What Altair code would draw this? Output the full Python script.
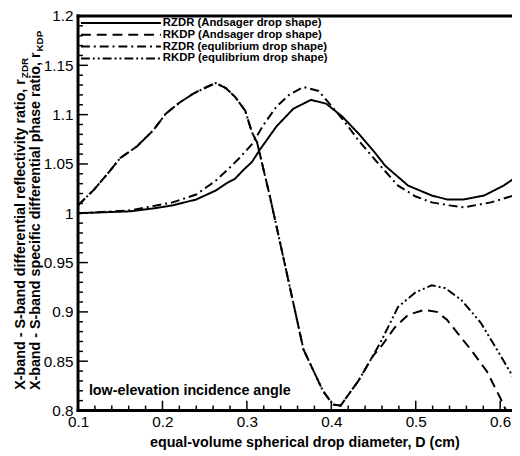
import altair as alt
import pandas as pd

FONT = "Liberation Sans"
W, H = 440, 400

# ---------------- data ----------------
rzdr_and_D = [0.100, 0.130, 0.162, 0.190, 0.212, 0.240, 0.263, 0.277, 0.286, 0.296, 0.306,
              0.315, 0.335, 0.355, 0.376, 0.394, 0.413, 0.432, 0.452, 0.464, 0.491, 0.519,
              0.537, 0.557, 0.581, 0.604, 0.616]
rzdr_and_v = [1.000, 1.001, 1.002, 1.005, 1.008, 1.014, 1.023, 1.031, 1.035, 1.044, 1.052,
              1.064, 1.088, 1.106, 1.115, 1.111, 1.098, 1.081, 1.061, 1.048, 1.028, 1.018,
              1.014, 1.014, 1.018, 1.028, 1.035]

rzdr_eq_D = [0.100, 0.162, 0.212, 0.240, 0.263, 0.277, 0.290, 0.306, 0.320, 0.335, 0.350,
             0.367, 0.385, 0.405, 0.420, 0.432, 0.452, 0.479, 0.500, 0.519, 0.540, 0.557,
             0.589, 0.616]
rzdr_eq_v = [1.000, 1.003, 1.011, 1.019, 1.033, 1.044, 1.055, 1.070, 1.090, 1.108, 1.120,
             1.128, 1.124, 1.104, 1.088, 1.074, 1.054, 1.028, 1.017, 1.011, 1.008, 1.006,
             1.011, 1.018]

rkdp_and_D = [0.100, 0.119, 0.135, 0.150, 0.170, 0.189, 0.204, 0.220, 0.236, 0.250, 0.263,
              0.275, 0.286, 0.298, 0.306, 0.312, 0.327, 0.344, 0.367, 0.390, 0.402, 0.411,
              0.432, 0.449, 0.460, 0.475, 0.491, 0.510, 0.525, 0.537, 0.550, 0.565, 0.584,
              0.600, 0.607]
rkdp_and_v = [1.008, 1.024, 1.040, 1.056, 1.068, 1.084, 1.101, 1.112, 1.121, 1.127, 1.132,
              1.127, 1.118, 1.104, 1.082, 1.072, 1.018, 0.952, 0.862, 0.820, 0.806, 0.805,
              0.830, 0.855, 0.866, 0.884, 0.897, 0.902, 0.900, 0.892, 0.878, 0.862, 0.840,
              0.813, 0.800]

rkdp_eq_D = [0.100, 0.119, 0.135, 0.150, 0.170, 0.189, 0.204, 0.220, 0.236, 0.250, 0.263,
             0.275, 0.286, 0.298, 0.306, 0.312, 0.327, 0.344, 0.367, 0.390, 0.402, 0.411,
             0.432, 0.449, 0.460, 0.479, 0.500, 0.519, 0.535, 0.554, 0.577, 0.596, 0.616]
rkdp_eq_v = [1.008, 1.024, 1.040, 1.056, 1.068, 1.084, 1.101, 1.112, 1.121, 1.127, 1.132,
             1.127, 1.118, 1.104, 1.082, 1.072, 1.018, 0.952, 0.862, 0.820, 0.806, 0.805,
             0.830, 0.855, 0.872, 0.905, 0.920, 0.927, 0.924, 0.912, 0.889, 0.862, 0.833]

series_names = ["RZDR (Andsager drop shape)", "RKDP (Andsager drop shape)",
                "RZDR (equlibrium drop shape)", "RKDP (equlibrium drop shape)"]
series_dash = [[1, 0], [10, 6], [9, 4, 2, 4], [9, 3, 2, 3, 2, 3]]
series_D = [rzdr_and_D, rkdp_and_D, rzdr_eq_D, rkdp_eq_D]
series_v = [rzdr_and_v, rkdp_and_v, rzdr_eq_v, rkdp_eq_v]

x_domain = [0.1, 0.614]
y_domain = [0.8, 1.2]
x_major = [0.1, 0.2, 0.3, 0.4, 0.5, 0.6]
x_minor = [0.12, 0.14, 0.16, 0.18, 0.22, 0.24, 0.26, 0.28, 0.32, 0.34, 0.36, 0.38,
           0.42, 0.44, 0.46, 0.48, 0.52, 0.54, 0.56, 0.58]
y_major = [0.8, 0.85, 0.9, 0.95, 1.0, 1.05, 1.1, 1.15, 1.2]
y_minor = [round(0.8 + 0.01 * i, 2) for i in range(41) if i % 5]

x_title = "equal-volume spherical drop diameter, D (cm)"
y_title_1 = "X-band - S-band differential reflectivity ratio, r"
y_sub_1 = "ZDR"
y_title_2 = "X-band - S-band specific differential phase ratio, r"
y_sub_2 = "KDP"
note = "low-elevation incidence angle"

px_x = (x_domain[1] - x_domain[0]) / W
px_y = (y_domain[1] - y_domain[0]) / H

# ---------------- scales / axes ----------------
def xs():
    return alt.Scale(domain=x_domain, nice=False, zero=False)


def ys():
    return alt.Scale(domain=y_domain, nice=False, zero=False)


lab = dict(labelFontSize=15.5, labelFlush=False, labelColor="black", labelFont=FONT)
x_main = alt.Axis(values=x_major, format="~g", ticks=False, grid=False, title="",
                  domain=False, labelPadding=4, **lab)
y_main = alt.Axis(values=y_major, format="~g", ticks=False, grid=False, title="",
                  domain=False, labelPadding=5, **lab)

layers = []

# inward ticks and frame as filled rectangles placed through the scales
rects = []
for vals, ln in [(y_major, 10), (y_minor, 5)]:
    for t in vals:
        rects.append({"D": x_domain[0], "D2": x_domain[0] + ln * px_x,
                      "r": t - 0.75 * px_y, "r2": t + 0.75 * px_y})
for vals, ln in [(x_major, 10), (x_minor, 5)]:
    for t in vals:
        rects.append({"D": t - 0.75 * px_x, "D2": t + 0.75 * px_x,
                      "r": y_domain[0], "r2": y_domain[0] + ln * px_y})
fw = 1.5
rects += [
    {"D": x_domain[0] - fw * px_x, "D2": x_domain[0] + fw * px_x,
     "r": y_domain[0] - fw * px_y, "r2": y_domain[1] + fw * px_y},
    {"D": x_domain[0] - fw * px_x, "D2": x_domain[1],
     "r": y_domain[0] - fw * px_y, "r2": y_domain[0] + fw * px_y},
    {"D": x_domain[0] - fw * px_x, "D2": x_domain[1],
     "r": y_domain[1] - fw * px_y, "r2": y_domain[1] + fw * px_y},
]
layers.append(alt.Chart(pd.DataFrame(rects)).mark_rect(color="black", opacity=1)
              .encode(x=alt.X("D:Q", scale=xs(), axis=x_main), x2="D2:Q",
                      y=alt.Y("r:Q", scale=ys(), axis=y_main), y2="r2:Q"))

for D, v, dash in zip(series_D, series_v, series_dash):
    df = pd.DataFrame({"D": D, "r": v})
    layers.append(alt.Chart(df).mark_line(color="black", strokeWidth=2, strokeDash=dash,
                                          clip=True)
                  .encode(x=alt.X("D:Q", scale=xs(), axis=None),
                          y=alt.Y("r:Q", scale=ys(), axis=None)))

# legend
row_y = [7, 19, 31, 43]
for name, dash, yy in zip(series_names, series_dash, row_y):
    layers.append(alt.Chart(pd.DataFrame({"a": [0]})).mark_rule(color="black", strokeWidth=2,
                                                                 strokeDash=dash)
                  .encode(x=alt.value(3), x2=alt.value(84), y=alt.value(yy)))
    layers.append(alt.Chart(pd.DataFrame({"t": [name]})).mark_text(
        align="left", baseline="middle", font=FONT, fontSize=11.5, fontWeight="bold",
        color="black").encode(text="t:N", x=alt.value(86), y=alt.value(yy)))

# annotation
layers.append(alt.Chart(pd.DataFrame({"t": [note]})).mark_text(
    align="left", baseline="middle", font=FONT, fontSize=14.5, fontWeight="bold", color="black")
    .encode(text="t:N", x=alt.value(11), y=alt.value(380)))

# x title
layers.append(alt.Chart(pd.DataFrame({"t": [x_title]})).mark_text(
    align="center", baseline="alphabetic", font=FONT, fontSize=14.5, fontWeight="bold",
    color="black").encode(text="t:N", x=alt.value(230), y=alt.value(H + 37)))

# y title (two lines with subscripts)
for txt, sub, bx, yend in [(y_title_1, y_sub_1, -54, 64), (y_title_2, y_sub_2, -39, 37)]:
    layers.append(alt.Chart(pd.DataFrame({"t": [txt]})).mark_text(
        angle=270, align="right", baseline="alphabetic", font=FONT, fontSize=14.5,
        fontWeight="bold", color="black").encode(text="t:N", x=alt.value(bx), y=alt.value(yend)))
    layers.append(alt.Chart(pd.DataFrame({"t": [sub]})).mark_text(
        angle=270, align="left", baseline="alphabetic", font=FONT, fontSize=10,
        fontWeight="bold", color="black").encode(text="t:N", x=alt.value(bx + 3), y=alt.value(yend - 1)))

chart = alt.layer(*layers).resolve_scale(x="independent", y="independent").properties(
    width=W, height=H,
    autosize=alt.AutoSizeParams(type="none"),
    padding={"left": 71, "top": 5, "right": 0, "bottom": 43},
).configure_view(strokeWidth=0).configure(font=FONT, background="white")

chart.save("out.html", embed_options={"renderer": "svg", "actions": False})
